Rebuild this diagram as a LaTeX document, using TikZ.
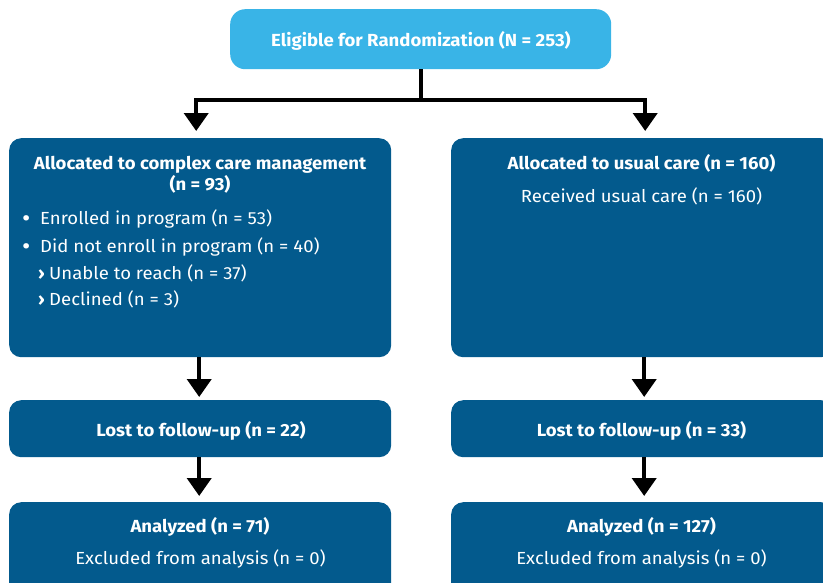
\documentclass[tikz,border=0pt]{standalone}
\usepackage{fontspec}
\setmainfont{Fira Sans}[FakeStretch=1.06]
\usetikzlibrary{arrows.meta}
\definecolor{lightb}{HTML}{39B4E7}
\definecolor{darkb}{HTML}{035A8D}
\begin{document}
\begin{tikzpicture}[x=1pt,y=-1pt,
  box/.style={fill=darkb, rounded corners=12pt, draw=none, inner sep=0pt, anchor=north west, minimum width=382pt},
  topbox/.style={fill=lightb, rounded corners=15pt, draw=none, inner sep=0pt, anchor=north west},
  txt/.style={text=white, font=\fontsize{17.5}{20}\selectfont, inner sep=0pt, anchor=base},
  hd/.style={txt, font=\fontseries{sb}\selectfont\fontsize{17.5}{20}\selectfont},
  bul/.style={txt, anchor=base west, font=\fontsize{24}{24}\selectfont},
  conn/.style={line width=4pt, -{Triangle[width=24pt,length=18pt]}}]
\useasboundingbox (0,0) rectangle (823,582);
\clip (0,0) rectangle (823,582);
% boxes
\node[topbox, minimum width=381pt, minimum height=60pt] (T) at (230,9) {};
\node[box, minimum height=219pt] (L1) at (9,138) {};
\node[box, minimum height=219pt] (R1) at (451,138) {};
\node[box, minimum height=57pt] (L2) at (9,400) {};
\node[box, minimum height=57pt] (R2) at (451,400) {};
\node[box, minimum height=100pt] (L3) at (9,502) {};
\node[box, minimum height=100pt] (R3) at (451,502) {};
% connectors
\coordinate (J) at (T.south |- 0,100);
\draw[line width=4pt] (T.south) -- (J);
\draw[conn, shorten >=7pt] (J) -| ([xshift=-4pt]L1.north);
\draw[conn, shorten >=7pt] (J) -| ([xshift=3pt]R1.north);
\draw[conn, shorten >=3pt] ([xshift=-1pt]L1.south) -- ([xshift=-1pt]L2.north);
\draw[conn, shorten >=3pt] ([xshift=2pt]R1.south) -- ([xshift=2pt]R2.north);
\draw[conn, shorten >=6pt] ([xshift=-1pt]L2.south) -- ([xshift=-1pt]L3.north);
\draw[conn, shorten >=6pt] ([xshift=2pt]R2.south) -- ([xshift=2pt]R3.north);
% texts
\node[hd] (t0) at (421,46) {Eligible for Randomization (N = 253)};
\node[hd] (l1a) at (200,169) {Allocated to complex care management};
\node[hd] (l1b) at (200,190) {(n = 93)};
\node[bul] (b1) at (22,226) {•};
\node[txt, anchor=base west] (l1c) at (40,224) {Enrolled in program (n = 53)};
\node[bul] (b2) at (22,254) {•};
\node[txt, anchor=base west] (l1d) at (40,252) {Did not enroll in program (n = 40)};
\node[txt, anchor=base west] (a1) at (38,279) {\bfseries ›};
\node[txt, anchor=base west] (l1e) at (49,279) {Unable to reach (n = 37)};
\node[txt, anchor=base west] (a2) at (38,305) {\bfseries ›};
\node[txt, anchor=base west] (l1f) at (49,305) {Declined (n = 3)};
\node[hd] (r1a) at (641.5,169) {Allocated to usual care (n = 160)};
\node[txt] (r1b) at (641.5,202) {Received usual care (n = 160)};
\node[hd] (l2a) at (201,436) {Lost to follow-up (n = 22)};
\node[hd] (r2a) at (641.5,436) {Lost to follow-up (n = 33)};
\node[hd] (l3a) at (200,532) {Analyzed (n = 71)};
\node[txt] (l3b) at (200.5,564) {Excluded from analysis (n = 0)};
\node[hd] (r3a) at (641.5,532) {Analyzed (n = 127)};
\node[txt] (r3b) at (641.5,564) {Excluded from analysis (n = 0)};
\end{tikzpicture}
\end{document}
